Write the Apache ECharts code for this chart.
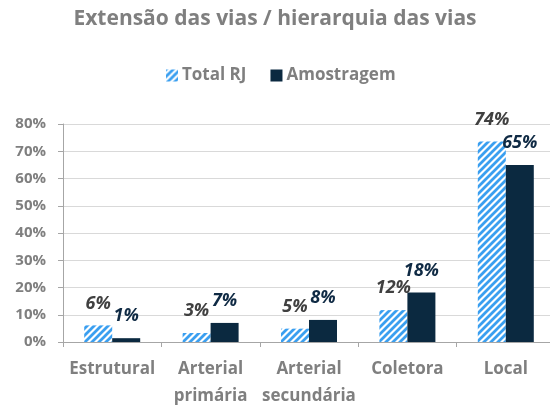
<!DOCTYPE html>
<html><head><meta charset="utf-8">
<script src="https://cdn.jsdelivr.net/npm/echarts@6/dist/echarts.min.js"></script>
<style>html,body{margin:0;padding:0;background:#fff}#c{width:550px;height:407px}</style>
</head><body><div id="c"></div>
<script>
const categories = ['Estrutural', 'Arterial\nprimária', 'Arterial\nsecundária', 'Coletora', 'Local'];
const totalRJ = [6.1, 3.3, 4.9, 11.7, 73.6];
const amostragem = [1.4, 7.0, 8.1, 18.2, 65.0];
const yTicks = { min: 0, max: 80, interval: 10 };

function stripes() {
  const s = 7;
  const cv = document.createElement('canvas');
  cv.width = s; cv.height = s;
  const ctx = cv.getContext('2d');
  ctx.fillStyle = '#ffffff'; ctx.fillRect(0, 0, s, s);
  ctx.strokeStyle = '#3a9ff0'; ctx.lineWidth = 2.8;
  ctx.beginPath();
  for (let k = -1; k <= 1; k++) {
    ctx.moveTo(k * s - 1, s + 1); ctx.lineTo(k * s + s + 1, -1);
  }
  ctx.stroke();
  return cv;
}
const FF = '"Open Sans", "Noto Sans", sans-serif';
const chart = echarts.init(document.getElementById('c'), null, { renderer: 'canvas' });
chart.setOption({
  animation: false,
  textStyle: { fontFamily: FF },
  title: {
    text: 'Extensão das vias / hierarquia das vias', left: 'center', top: 4,
    textStyle: { color: '#7f7f7f', fontSize: 21, fontWeight: 'bold', fontFamily: FF }
  },
  legend: {
    top: 62, left: 161, itemWidth: 12, itemHeight: 12, itemGap: 24,
    icon: 'rect',
    textStyle: { color: '#7f7f7f', fontSize: 17, fontWeight: 'bold', fontFamily: FF, padding: [0, 0, 0, -1] },
    data: ['Total RJ', 'Amostragem']
  },
  grid: { left: 63, top: 124, bottom: 65, width: 492, containLabel: false, outerBoundsMode: 'none' },
  xAxis: {
    type: 'category', data: categories,
    axisLine: { lineStyle: { color: '#a6a6a6', width: 1 } },
    axisTick: { show: true, length: 5, lineStyle: { color: '#a6a6a6' } },
    axisLabel: { color: '#7f7f7f', fontSize: 17, fontWeight: 'bold', fontFamily: FF, lineHeight: 27, margin: 14, interval: 0 }
  },
  yAxis: {
    type: 'value', min: yTicks.min, max: yTicks.max, interval: yTicks.interval,
    axisLine: { show: true, lineStyle: { color: '#a6a6a6' } },
    axisTick: { show: true, length: 5, lineStyle: { color: '#a6a6a6' } },
    splitLine: { lineStyle: { color: '#d9d9d9', width: 1.2 } },
    axisLabel: { formatter: '{value}%', color: '#7f7f7f', fontSize: 15, fontWeight: 'bold', fontFamily: FF, margin: 17 }
  },
  series: [
    {
      name: 'Total RJ', type: 'bar', data: totalRJ, barWidth: 28, barGap: '0%',
      itemStyle: { color: { image: stripes(), repeat: 'repeat' } },
      label: { show: true, position: 'top', distance: 13, formatter: p => Math.round(p.value) + '%',
        color: '#404040', fontSize: 18, fontWeight: 'bold', fontStyle: 'italic', fontFamily: FF }
    },
    {
      name: 'Amostragem', type: 'bar', data: amostragem, barWidth: 28,
      itemStyle: { color: '#0b2940' },
      label: { show: true, position: 'top', distance: 13, formatter: p => Math.round(p.value) + '%',
        color: '#0f2a44', fontSize: 18, fontWeight: 'bold', fontStyle: 'italic', fontFamily: FF }
    }
  ]
});
</script></body></html>
